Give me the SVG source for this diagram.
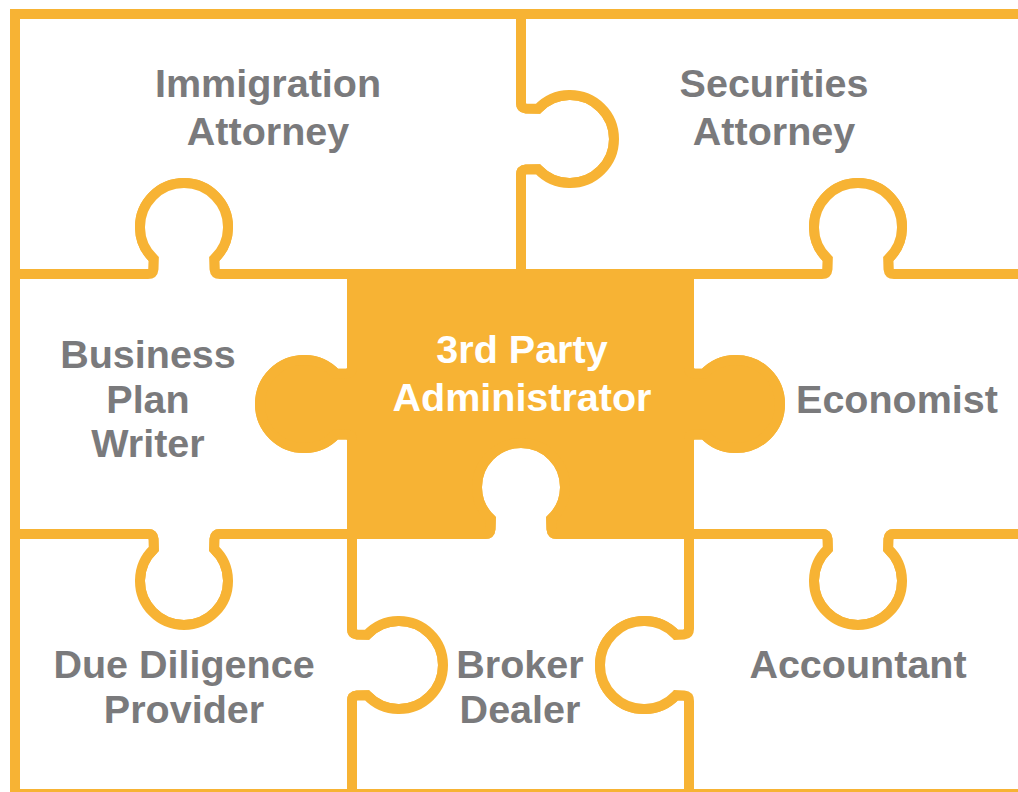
<svg xmlns="http://www.w3.org/2000/svg" width="1018" height="792" viewBox="0 0 1018 792">
<style>
.piece{fill:#ffffff;stroke:#F7B334;stroke-width:10;stroke-linejoin:miter}
.hub{fill:#F7B334;stroke:#F7B334;stroke-width:10;stroke-linejoin:miter}
.lbl{font-family:"Liberation Sans",Arial,Helvetica,sans-serif;font-weight:700;font-size:39.5px;fill:#7A7A7C;text-anchor:middle}
.lbl.w{fill:#ffffff}
</style>
<rect x="0" y="0" width="1018" height="792" fill="#ffffff"/>
<g id="immigration-attorney">
<path class="piece" d="M15 14 L521 14 L521 103 Q521 108 526 108.5 L538 108.8 A44 44 0 1 1 538 169.2 L526 169.5 Q521 170 521 175 L521 274 L220 274 Q215 274 214.5 269 L214.2 259 A44 44 0 1 0 153.8 259 L153.5 269 Q153 274 148 274 L15 274 Z"/>
<text class="lbl" x="268" y="97">Immigration</text>
<text class="lbl" x="268" y="145">Attorney</text>
</g>
<g id="securities-attorney">
<path class="piece" d="M521 14 L1030 14 L1030 274 L894 274 Q889 274 888.5 269 L888.2 259 A44 44 0 1 0 827.8 259 L827.5 269 Q827 274 822 274 L521 274 L521 175 Q521 170 526 169.5 L538 169.2 A44 44 0 1 0 538 108.8 L526 108.5 Q521 108 521 103 Z"/>
<text class="lbl" x="774" y="97">Securities</text>
<text class="lbl" x="774" y="145">Attorney</text>
</g>
<g id="business-plan-writer">
<path class="piece" d="M15 274 L148 274 Q153 274 153.5 269 L153.8 259 A44 44 0 1 1 214.2 259 L214.5 269 Q215 274 220 274 L352 274 L352 368 Q352 373 347 373.5 L336 373.8 A44 44 0 1 0 336 434.2 L347 434.5 Q352 435 352 440 L352 534 L220 534 Q215 534 214.5 539 L214.2 549 A44 44 0 1 1 153.8 549 L153.5 539 Q153 534 148 534 L15 534 Z"/>
<text class="lbl" x="148" y="368">Business</text>
<text class="lbl" x="148" y="413">Plan</text>
<text class="lbl" x="148" y="457">Writer</text>
</g>
<g id="economist">
<path class="piece" d="M689 274 L822 274 Q827 274 827.5 269 L827.8 259 A44 44 0 1 1 888.2 259 L888.5 269 Q889 274 894 274 L1030 274 L1030 534 L894 534 Q889 534 888.5 539 L888.2 549 A44 44 0 1 1 827.8 549 L827.5 539 Q827 534 822 534 L689 534 L689 440 Q689 435 694 434.5 L704 434.2 A44 44 0 1 0 704 373.8 L694 373.5 Q689 373 689 368 Z"/>
<text class="lbl" x="897" y="413">Economist</text>
</g>
<g id="due-diligence-provider">
<path class="piece" d="M15 534 L148 534 Q153 534 153.5 539 L153.8 549 A44 44 0 1 0 214.2 549 L214.5 539 Q215 534 220 534 L352 534 L352 629 Q352 634 357 634.5 L367 634.8 A44 44 0 1 1 367 695.2 L357 695.5 Q352 696 352 701 L352 794 L15 794 Z"/>
<text class="lbl" x="184" y="678">Due Diligence</text>
<text class="lbl" x="184" y="723">Provider</text>
</g>
<g id="broker-dealer">
<path class="piece" d="M352 534 L485 534 Q490 534 490.5 529 L490.8 519 A44 44 0 1 1 551.2 519 L551.5 529 Q552 534 557 534 L689 534 L689 629 Q689 634 684 634.5 L676 634.8 A44 44 0 1 0 676 695.2 L684 695.5 Q689 696 689 701 L689 794 L352 794 L352 701 Q352 696 357 695.5 L367 695.2 A44 44 0 1 0 367 634.8 L357 634.5 Q352 634 352 629 Z"/>
<text class="lbl" x="520" y="678">Broker</text>
<text class="lbl" x="520" y="723">Dealer</text>
</g>
<g id="accountant">
<path class="piece" d="M689 534 L822 534 Q827 534 827.5 539 L827.8 549 A44 44 0 1 0 888.2 549 L888.5 539 Q889 534 894 534 L1030 534 L1030 794 L689 794 L689 701 Q689 696 684 695.5 L676 695.2 A44 44 0 1 1 676 634.8 L684 634.5 Q689 634 689 629 Z"/>
<text class="lbl" x="858" y="678">Accountant</text>
</g>
<g id="third-party-administrator">
<path class="hub" d="M352 274 L689 274 L689 368 Q689 373 694 373.5 L704 373.8 A44 44 0 1 1 704 434.2 L694 434.5 Q689 435 689 440 L689 534 L557 534 Q552 534 551.5 529 L551.2 519 A44 44 0 1 0 490.8 519 L490.5 529 Q490 534 485 534 L352 534 L352 440 Q352 435 347 434.5 L336 434.2 A44 44 0 1 1 336 373.8 L347 373.5 Q352 373 352 368 Z"/>
<text class="lbl w" x="522" y="363">3rd Party</text>
<text class="lbl w" x="522" y="411">Administrator</text>
</g>
</svg>
